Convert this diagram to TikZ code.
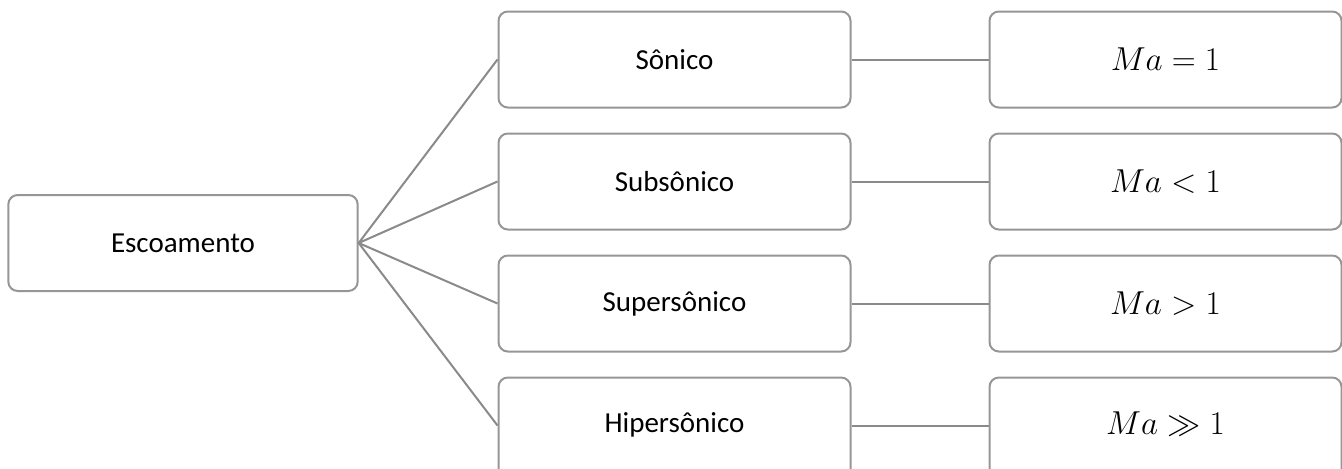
\documentclass[tikz,border=0pt]{standalone}
\usepackage{fontspec}
\setmainfont{Carlito}
\usepackage{tikz}
\usetikzlibrary{positioning}
\definecolor{boxgray}{RGB}{150,150,150}
\definecolor{linegray}{RGB}{138,138,138}
\tikzstyle{caixa} = [rectangle, rounded corners=7pt, minimum width=264pt, minimum height=72pt, text centered, draw=boxgray, line width=1.5pt, fill=white]
\tikzstyle{corte} = [minimum height=88pt, text depth=20pt, yshift=-8pt]
\tikzstyle{ramo} = [draw=linegray, line width=1.5pt]
\tikzstyle{mach} = [font=\fontsize{24}{28}\selectfont]
\tikzstyle{every node}=[font=\fontsize{21.75}{26}\selectfont]

\begin{document}
\begin{tikzpicture}[x=0.75pt, y=-0.75pt, node distance=91.5pt]
		\useasboundingbox (0,0) rectangle (1342,468);
		\clip (0,0) rectangle (1342,468);
		\node (esc) [caixa, minimum width=262pt, minimum height=72pt] at (183,243) {Escoamento};
		
		\node (son) [caixa] at (674.5,59.5) {Sônico};
		\node (sub) [caixa, below of=son] {Subsônico};
		\node (sup) [caixa, below of=sub] {Supersônico};
		\node (hip) [caixa, corte, below of=sup] {Hipersônico};
		
		\node (ma1) [caixa, mach] at (1165.5,59.5) {$Ma = 1$};
		\node (ma2) [caixa, mach, below of=ma1] {$Ma < 1$};
		\node (ma3) [caixa, mach, below of=ma2] {$Ma > 1$};
		\node (ma4) [caixa, mach, corte, below of=ma3] {$Ma \gg 1$};
		
		%ramos
		\draw [ramo](esc.east) -- (son.west);
		\draw [ramo](esc.east) -- (sub.west);
		\draw [ramo](esc.east) -- (sup.west);
		\draw [ramo](esc.east) -- ([yshift=8pt]hip.west);
		\draw [ramo](son.east) -- (ma1.west);
		\draw [ramo](sub.east) -- (ma2.west);
		\draw [ramo](sup.east) -- (ma3.west);
		\draw [ramo]([yshift=8pt]hip.east) -- ([yshift=8pt]ma4.west);
		
	\end{tikzpicture}
\end{document}
